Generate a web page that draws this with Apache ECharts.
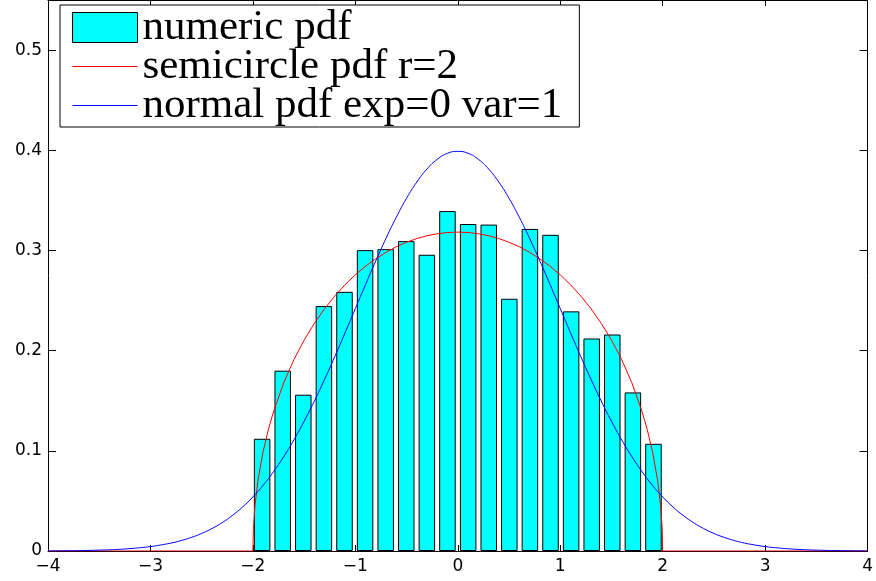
<!DOCTYPE html>
<html>
<head>
<meta charset="utf-8">
<script src="https://cdn.jsdelivr.net/npm/echarts@6/dist/echarts.min.js"></script>
<style>
  html, body { margin: 0; padding: 0; background: #fff; }
  #main { width: 876px; height: 581px; }
</style>
</head>
<body>
<div id="main"></div>
<script>
// histogram bar centres and heights
var barX = [-1.91, -1.709, -1.508, -1.307, -1.106, -0.905, -0.704, -0.503, -0.302, -0.101,
            0.101, 0.302, 0.503, 0.704, 0.905, 1.106, 1.307, 1.508, 1.709, 1.91];
var barY = [0.112, 0.180, 0.156, 0.2445, 0.2587, 0.3003, 0.3013, 0.3093, 0.2957, 0.3393,
            0.3264, 0.3258, 0.2518, 0.3215, 0.3156, 0.2392, 0.2121, 0.2161, 0.1583, 0.107];

// semicircle curve
var semiX = [-4, -2, -1.995, -1.98, -1.95, -1.9, -1.85, -1.8, -1.7, -1.6, -1.5, -1.4, -1.3, -1.2, -1.1,
             -1, -0.9, -0.8, -0.7, -0.6, -0.5, -0.4, -0.3, -0.2, -0.1, 0,
             0.1, 0.2, 0.3, 0.4, 0.5, 0.6, 0.7, 0.8, 0.9, 1,
             1.1, 1.2, 1.3, 1.4, 1.5, 1.6, 1.7, 1.8, 1.85, 1.9, 1.95, 1.98, 1.995, 2, 4];
var semiY = [0, 0, 0.0225, 0.0449, 0.0707, 0.0994, 0.1209, 0.1387, 0.1677, 0.1910, 0.2105, 0.2273, 0.2419, 0.2546, 0.2658,
             0.2757, 0.2843, 0.2917, 0.2982, 0.3037, 0.3082, 0.3119, 0.3147, 0.3167, 0.3179, 0.3183,
             0.3179, 0.3167, 0.3147, 0.3119, 0.3082, 0.3037, 0.2982, 0.2917, 0.2843, 0.2757,
             0.2658, 0.2546, 0.2419, 0.2273, 0.2105, 0.1910, 0.1677, 0.1387, 0.1209, 0.0994, 0.0707, 0.0449, 0.0225, 0, 0];

// normal curve
var normX = [-4, -3.9, -3.8, -3.7, -3.6, -3.5, -3.4, -3.3, -3.2, -3.1, -3, -2.9, -2.8, -2.7, -2.6, -2.5, -2.4, -2.3, -2.2, -2.1,
             -2, -1.9, -1.8, -1.7, -1.6, -1.5, -1.4, -1.3, -1.2, -1.1, -1, -0.9, -0.8, -0.7, -0.6, -0.5, -0.4, -0.3, -0.2, -0.1,
             0, 0.1, 0.2, 0.3, 0.4, 0.5, 0.6, 0.7, 0.8, 0.9, 1, 1.1, 1.2, 1.3, 1.4, 1.5, 1.6, 1.7, 1.8, 1.9,
             2, 2.1, 2.2, 2.3, 2.4, 2.5, 2.6, 2.7, 2.8, 2.9, 3, 3.1, 3.2, 3.3, 3.4, 3.5, 3.6, 3.7, 3.8, 3.9, 4];
var normY = [0.0001, 0.0002, 0.0003, 0.0004, 0.0006, 0.0009, 0.0012, 0.0017, 0.0024, 0.0033,
             0.0044, 0.0060, 0.0079, 0.0104, 0.0136, 0.0175, 0.0224, 0.0283, 0.0355, 0.0440,
             0.0540, 0.0656, 0.0790, 0.0940, 0.1109, 0.1295, 0.1497, 0.1714, 0.1942, 0.2179,
             0.2420, 0.2661, 0.2897, 0.3123, 0.3332, 0.3521, 0.3683, 0.3814, 0.3910, 0.3970,
             0.3989,
             0.3970, 0.3910, 0.3814, 0.3683, 0.3521, 0.3332, 0.3123, 0.2897, 0.2661, 0.2420,
             0.2179, 0.1942, 0.1714, 0.1497, 0.1295, 0.1109, 0.0940, 0.0790, 0.0656, 0.0540,
             0.0440, 0.0355, 0.0283, 0.0224, 0.0175, 0.0136, 0.0104, 0.0079, 0.0060, 0.0044,
             0.0033, 0.0024, 0.0017, 0.0012, 0.0009, 0.0006, 0.0004, 0.0003, 0.0002, 0.0001];

var xTicks = [-4, 4, 1];
var yTicks = [0, 0.55, 0.1];

function zip(a, b) {
  var out = [];
  for (var i = 0; i < a.length; i++) out.push([a[i], b[i]]);
  return out;
}

var chart = echarts.init(document.getElementById('main'));

var tickFont = { fontFamily: 'DejaVu Sans', fontSize: 17, color: '#000' };
// thin horizontal bar used as legend icon for the curves
var lineIcon = 'path://M0,0 L65,0 L65,1 L0,1 Z';

function axisCommon(extra) {
  return Object.assign({
    type: 'value',
    axisLine: { show: true, onZero: false, lineStyle: { color: '#000', width: 1 } },
    splitLine: { show: false }
  }, extra);
}

var option = {
  animation: false,
  backgroundColor: '#fff',
  grid: { left: 48, right: 7, top: -3, bottom: 30 },
  legend: {
    orient: 'vertical',
    left: 60,
    top: 5,
    padding: [1, 17, 0, 12],
    itemWidth: 65,
    itemHeight: 30,
    itemGap: -4,
    itemTextGap: 9,
    symbolKeepAspect: true,
    backgroundColor: '#fff',
    borderColor: '#000',
    borderWidth: 1,
    borderRadius: 0,
    textStyle: { fontFamily: 'Liberation Serif', fontSize: 43, color: '#000' },
    data: [
      { name: 'numeric pdf', icon: 'rect', itemStyle: { color: '#00ffff', borderColor: '#000', borderWidth: 1 } },
      { name: 'semicircle pdf r=2', icon: lineIcon, itemStyle: { color: '#ff0000', borderWidth: 0 } },
      { name: 'normal pdf exp=0 var=1', icon: lineIcon, itemStyle: { color: '#0000ff', borderWidth: 0 } }
    ]
  },
  xAxis: [
    axisCommon({
      min: xTicks[0], max: xTicks[1], interval: xTicks[2], position: 'bottom',
      axisTick: { show: true, inside: true, length: 6, lineStyle: { color: '#000' } },
      axisLabel: Object.assign({ margin: 7, formatter: function (v) { return String(v).replace('-', '\u2212'); } }, tickFont)
    }),
    axisCommon({
      min: xTicks[0], max: xTicks[1], interval: xTicks[2], position: 'top',
      axisTick: { show: true, inside: true, length: 6, lineStyle: { color: '#000' } },
      axisLabel: { show: false }
    })
  ],
  yAxis: [
    axisCommon({
      min: yTicks[0], max: yTicks[1], interval: yTicks[2], position: 'left',
      axisTick: { show: true, inside: true, length: 8, lineStyle: { color: '#000' } },
      axisLabel: Object.assign({ margin: 6, showMaxLabel: false }, tickFont)
    }),
    axisCommon({
      min: yTicks[0], max: yTicks[1], interval: yTicks[2], position: 'right',
      axisTick: { show: true, inside: true, length: 8, lineStyle: { color: '#000' } },
      axisLabel: { show: false }
    })
  ],
  series: [
    {
      name: 'numeric pdf',
      type: 'bar',
      xAxisIndex: 0, yAxisIndex: 0,
      barWidth: 16.5,
      itemStyle: { color: '#00ffff', borderColor: '#000', borderWidth: 1 },
      data: zip(barX, barY)
    },
    {
      name: 'semicircle pdf r=2',
      type: 'line',
      xAxisIndex: 0, yAxisIndex: 0,
      symbol: 'none',
      lineStyle: { color: '#ff0000', width: 1 },
      itemStyle: { color: '#ff0000' },
      data: zip(semiX, semiY)
    },
    {
      name: 'normal pdf exp=0 var=1',
      type: 'line',
      xAxisIndex: 0, yAxisIndex: 0,
      symbol: 'none',
      smooth: true,
      lineStyle: { color: '#0000ff', width: 1 },
      itemStyle: { color: '#0000ff' },
      data: zip(normX, normY)
    }
  ]
};

chart.setOption(option);
</script>
</body>
</html>
